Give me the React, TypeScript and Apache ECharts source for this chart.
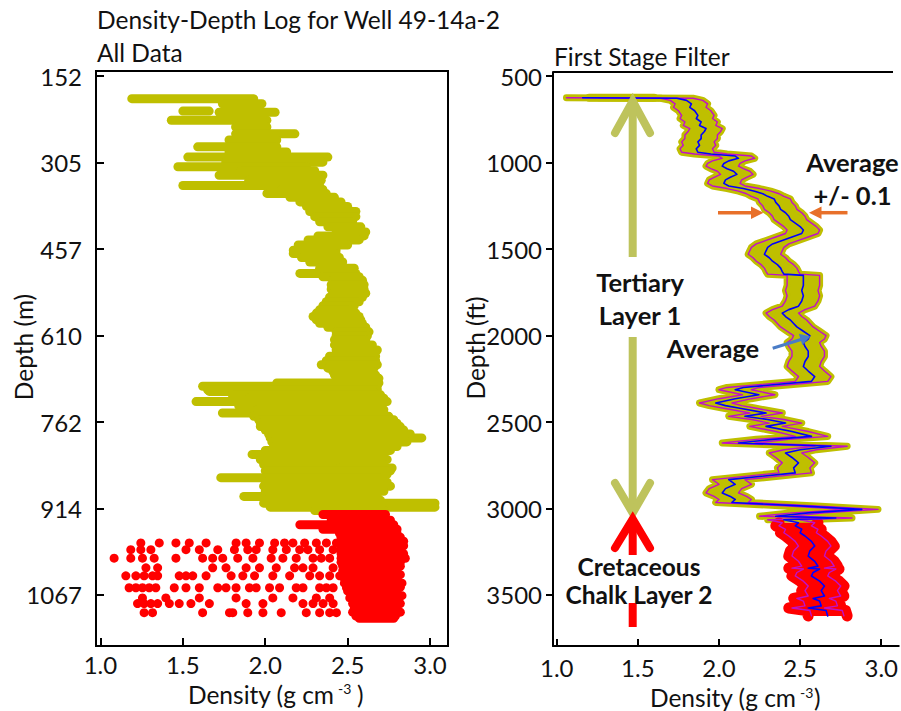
import React, { useEffect, useRef } from "react";
import * as echarts from "echarts";

// ---------- axis ticks ----------
const LEFT_DEPTH_TICKS_M = [152.4, 304.8, 457.2, 609.6, 762, 914.4, 1066.8];
const RIGHT_DEPTH_TICKS_FT = [500, 1000, 1500, 2000, 2500, 3000, 3500];
const DENSITY_TICKS = [1.0, 1.5, 2.0, 2.5, 3.0];

// ---------- left panel: all data, rows of measurements [depth m, min density, max density] ----------
const LEFT_TERTIARY_ROWS = [
  [192, 1.19, 1.93], [201, 1.74, 1.98], [214, 1.5, 1.66], [216, 1.72, 2.06], [230, 1.43, 2.01],
  [242, 1.82, 2.01], [254, 1.82, 2.18], [265, 1.78, 2.07], [277, 1.59, 2.07], [286, 1.78, 2.13],
  [295, 1.53, 2.38], [304, 1.76, 2.35], [312, 1.47, 2.25], [319, 1.85, 2.3], [327, 1.72, 2.35],
  [336, 1.9, 2.34], [345, 1.5, 2.33], [352, 2.1, 2.35], [359, 2.01, 2.37], [366, 2.15, 2.42],
  [374, 2.21, 2.46], [382, 2.25, 2.5], [391, 2.27, 2.55], [400, 2.3, 2.55], [409, 2.33, 2.53],
  [418, 2.38, 2.58], [427, 2.43, 2.61], [434, 2.32, 2.6], [441, 2.26, 2.57], [450, 2.2, 2.5],
  [459, 2.17, 2.43], [465, 2.17, 2.43], [472, 2.22, 2.45], [480, 2.27, 2.47], [491, 2.33, 2.54],
  [500, 2.21, 2.55], [506, 2.35, 2.57], [512, 2.41, 2.59], [520, 2.4, 2.6], [528, 2.4, 2.6],
  [535, 2.41, 2.61], [542, 2.39, 2.59], [550, 2.37, 2.57], [557, 2.35, 2.54], [564, 2.33, 2.51],
  [570, 2.31, 2.55], [576, 2.29, 2.57], [582, 2.31, 2.58], [588, 2.33, 2.59], [595, 2.38, 2.61],
  [603, 2.43, 2.63], [610, 2.43, 2.62], [617, 2.42, 2.61], [626, 2.42, 2.65], [635, 2.43, 2.68],
  [646, 2.39, 2.67], [654, 2.37, 2.67], [661, 2.34, 2.68], [667, 2.38, 2.66], [673, 2.41, 2.65],
  [679, 2.42, 2.67], [685, 2.43, 2.69], [693, 2.07, 2.69], [699, 1.62, 2.68], [705, 1.65, 2.68],
  [708, 1.66, 2.66], [714, 1.8, 2.7], [720, 1.9, 2.72], [726, 1.58, 2.74], [734, 1.84, 2.7],
  [740, 1.95, 2.72], [746, 1.74, 2.72], [752, 1.93, 2.75], [758, 1.96, 2.78], [764, 1.97, 2.8],
  [770, 1.97, 2.82], [776, 2.0, 2.84], [783, 2.02, 2.88], [790, 2.03, 2.95], [797, 2.04, 2.86],
  [805, 2.05, 2.8], [812, 2.0, 2.76], [819, 1.92, 2.72], [828, 1.97, 2.74], [837, 1.99, 2.72],
  [843, 2.45, 2.77], [848, 2.0, 2.76], [854, 2.05, 2.74], [860, 1.73, 2.7], [868, 2.0, 2.74],
  [875, 1.99, 2.76], [884, 2.0, 2.72], [893, 1.87, 2.68], [900, 2.0, 2.7], [905, 1.99, 3.03],
  [912, 2.03, 3.03], [918, 2.3, 2.72],
];

const LEFT_CHALK_ROWS = [
  [925, 2.35, 2.73], [935, 2.4, 2.76], [943, 2.21, 2.78], [951, 2.35, 2.8], [958, 2.45, 2.8],
  [965, 2.46, 2.82], [972, 2.46, 2.84], [980, 2.46, 2.84], [987, 2.46, 2.82], [994, 2.46, 2.84],
  [1002, 2.46, 2.85], [1009, 2.46, 2.82], [1016, 2.47, 2.82], [1024, 2.47, 2.8], [1031, 2.47, 2.82],
  [1038, 2.48, 2.8], [1046, 2.48, 2.83], [1053, 2.5, 2.82], [1060, 2.5, 2.8], [1068, 2.52, 2.83],
  [1075, 2.53, 2.8], [1082, 2.53, 2.82], [1090, 2.54, 2.8], [1097, 2.53, 2.82], [1104, 2.55, 2.79],
  [1108, 2.57, 2.78],
];

// scattered chalk measurements [density, depth m]
const LEFT_CHALK_SCATTER = [
  [1.245, 975], [1.357, 975], [1.458, 975], [1.539, 975], [1.641, 975], [1.823, 975], [1.884, 975],
  [1.965, 975], [2.057, 975], [2.117, 975], [2.168, 975], [2.239, 975], [2.31, 975], [2.371, 975], [2.432, 975],
  [1.184, 987], [1.245, 987], [1.306, 987], [1.519, 987], [1.6, 987], [1.712, 987], [1.813, 987],
  [1.894, 987], [1.945, 987], [2.046, 987], [2.128, 987], [2.209, 987], [2.259, 987], [2.33, 987], [2.412, 987],
  [1.083, 1002], [1.184, 1002], [1.255, 1002], [1.326, 1002], [1.458, 1002], [1.62, 1002], [1.681, 1002],
  [1.742, 1002], [1.833, 1002], [1.925, 1002], [2.036, 1002], [2.107, 1002], [2.188, 1002], [2.29, 1002],
  [2.34, 1002], [2.391, 1002],
  [1.276, 1019], [1.347, 1019], [1.681, 1019], [1.762, 1019], [1.884, 1019], [1.965, 1019], [2.067, 1019],
  [2.178, 1019], [2.229, 1019], [2.29, 1019], [2.412, 1019],
  [1.154, 1033], [1.215, 1033], [1.265, 1033], [1.316, 1033], [1.347, 1033], [1.478, 1033], [1.519, 1033],
  [1.56, 1033], [1.641, 1033], [1.793, 1033], [1.864, 1033], [1.935, 1033], [2.046, 1033], [2.148, 1033],
  [2.27, 1033], [2.33, 1033], [2.391, 1033], [2.452, 1033],
  [1.174, 1054], [1.215, 1054], [1.255, 1054], [1.296, 1054], [1.336, 1054], [1.448, 1054], [1.519, 1054],
  [1.6, 1054], [1.712, 1054], [1.762, 1054], [1.823, 1054], [1.904, 1054], [1.945, 1054], [2.026, 1054],
  [2.087, 1054], [2.188, 1054], [2.229, 1054], [2.33, 1054], [2.371, 1054], [2.412, 1054], [2.493, 1054],
  [1.255, 1072], [1.397, 1072], [1.6, 1072], [1.823, 1072], [2.046, 1072], [2.168, 1072], [2.31, 1072],
  [2.391, 1072], [2.513, 1072],
  [1.225, 1082], [1.265, 1082], [1.306, 1082], [1.347, 1082], [1.418, 1082], [1.478, 1082], [1.549, 1082],
  [1.661, 1082], [1.884, 1082], [1.986, 1082], [2.229, 1082], [2.29, 1082], [2.351, 1082], [2.412, 1082],
  [1.265, 1098], [1.316, 1098], [1.62, 1098], [1.783, 1098], [1.803, 1098], [1.894, 1098], [1.986, 1098],
  [2.097, 1098], [2.249, 1098], [2.33, 1098], [2.391, 1098], [2.432, 1098],
];

// ---------- right panel: first stage filter, running average [depth ft, density] ----------
const RIGHT_TERTIARY_AVG = [
  [625, 1.16], [628, 1.74], [640, 1.8], [660, 1.83], [680, 1.82], [700, 1.85], [727, 1.87], [745, 1.86],
  [765, 1.89], [785, 1.88], [803, 1.92], [820, 1.91], [840, 1.89], [861, 1.89], [880, 1.87], [900, 1.88],
  [920, 1.86], [940, 1.87], [950, 1.95], [962, 2.1], [975, 2.12], [990, 2.06], [1005, 2.03], [1020, 2.02],
  [1035, 2.05], [1050, 2.09], [1068, 2.11], [1085, 2.07], [1100, 2.04], [1120, 2.03], [1135, 2.06],
  [1150, 2.15], [1165, 2.22], [1180, 2.27], [1195, 2.3], [1210, 2.34], [1230, 2.35], [1250, 2.37],
  [1270, 2.38], [1290, 2.41], [1310, 2.43], [1330, 2.44], [1350, 2.47], [1370, 2.5], [1390, 2.52],
  [1410, 2.51], [1430, 2.45], [1450, 2.39], [1470, 2.33], [1490, 2.3], [1510, 2.29], [1530, 2.28],
  [1550, 2.31], [1570, 2.33], [1590, 2.36], [1610, 2.38], [1630, 2.39], [1645, 2.4], [1652, 2.52],
  [1680, 2.52], [1710, 2.52], [1740, 2.51], [1770, 2.52], [1800, 2.51], [1830, 2.49], [1850, 2.43],
  [1870, 2.39], [1890, 2.41], [1910, 2.44], [1930, 2.46], [1950, 2.48], [1975, 2.52], [2000, 2.56],
  [2020, 2.55], [2040, 2.52], [2063, 2.53], [2090, 2.55], [2121, 2.55], [2150, 2.53], [2179, 2.52],
  [2205, 2.55], [2237, 2.59], [2265, 2.57], [2300, 2.15], [2313, 2.1], [2342, 2.245], [2365, 2.1],
  [2390, 1.98], [2405, 2.04], [2419, 2.12], [2448, 2.29], [2467, 2.16], [2485, 2.3], [2506, 2.41],
  [2525, 2.29], [2555, 2.45], [2583, 2.57], [2600, 2.33], [2621, 2.12], [2640, 2.69], [2660, 2.5],
  [2679, 2.41], [2705, 2.45], [2736, 2.49], [2765, 2.46], [2794, 2.47], [2833, 2.06], [2860, 2.1],
  [2885, 2.04], [2910, 2.02], [2930, 2.07], [2948, 2.1], [2965, 2.08], [2985, 2.5], [3005, 2.88],
  [3025, 2.55], [3045, 2.35], [3055, 2.72], [3065, 2.4],
];

const RIGHT_CHALK_AVG = [
  [3082, 2.49], [3100, 2.47], [3120, 2.51], [3140, 2.5], [3159, 2.53], [3190, 2.57], [3217, 2.59],
  [3245, 2.56], [3275, 2.55], [3305, 2.59], [3333, 2.61], [3345, 2.55], [3350, 2.62], [3370, 2.58],
  [3390, 2.57], [3420, 2.62], [3448, 2.65], [3475, 2.63], [3506, 2.65], [3520, 2.58], [3535, 2.62],
  [3563, 2.63], [3575, 2.55], [3590, 2.66], [3621, 2.67],
];

// raw (unfiltered) rows visible in right panel [depth ft, min density, max density]
const RIGHT_RAW_ROWS = [[625, 1.2, 1.6]];

const FILTER_HALF_WIDTH = 0.1;

// ---------- styling ----------
const OLIVE = "#bfbf00";
const RED = "#ff0000";
const MAGENTA = "#c010c8";
const BLUE = "#0000ff";
const ARROW_OLIVE = "#bec35c";
const ORANGE = "#e8702a";
const ARROW_BLUE = "#4a7cc6";
const FONT = 'Lato, "Liberation Sans", sans-serif';
const FS = 24.5;

function capsuleRenderer(color: string, r: number) {
  return (_params: any, api: any) => {
    const y = api.value(0);
    const p1 = api.coord([api.value(1), y]);
    const p2 = api.coord([api.value(2), y]);
    return {
      type: "rect",
      shape: { x: p1[0] - r, y: p1[1] - r, width: p2[0] - p1[0] + 2 * r, height: 2 * r, r },
      style: { fill: color },
    };
  };
}

function bandRenderer(avg: number[][], half: number, color: string) {
  return (_params: any, api: any) => {
    const left = avg.map(([ft, d]) => api.coord([d - half, ft]));
    const right = avg.map(([ft, d]) => api.coord([d + half, ft])).reverse();
    return { type: "polygon", shape: { points: left.concat(right) }, style: { fill: color } };
  };
}

const shift = (avg: number[][], off: number) => avg.map(([ft, d]) => [d + off, ft]);

export default function App() {
  const ref = useRef<HTMLDivElement>(null);
  useEffect(() => {
    if (!ref.current) return;
    const chart = echarts.init(ref.current, null, { renderer: "svg" });
    const fullAvg = RIGHT_TERTIARY_AVG.concat(RIGHT_CHALK_AVG);
    const tickLabel = { fontFamily: FONT, fontSize: 24, color: "#111" };
    const txt = (text: string, x: number, y: number, extra: any = {}, el: any = {}) => ({
      type: "text",
      x,
      y,
      ...el,
      style: {
        text,
        fontFamily: FONT,
        fontSize: FS,
        fill: "#111",
        textAlign: "left",
        textVerticalAlign: "middle",
        ...extra,
      },
    });
    const boldTxt = (text: string, x: number, y: number, lh: number, fs = 25.5) =>
      txt(text, x, y, { fontWeight: "bold", textAlign: "center", fontSize: fs, lineHeight: lh }, { z: 11 });

    // "Density (g cm" + superscript "-3" + ")"
    const densityName = (xEnd: number, y: number, supX: number, supY: number, parX: number) => [
      txt("Density (g cm", xEnd, y, { textAlign: "right" }),
      txt("-3", supX, supY, { fontSize: 14 }),
      txt(")", parX, y),
    ];

    const lineSeries = (data: number[][], color: string, width: number, z: number) => ({
      type: "line",
      xAxisIndex: 1,
      yAxisIndex: 1,
      data,
      symbol: "none",
      silent: true,
      z,
      lineStyle: { color, width, cap: "round", join: "round" },
    });

    const option: any = {
      animation: false,
      grid: [
        { left: 96, top: 71, width: 352, height: 575, show: true, borderColor: "#000", borderWidth: 2 },
        { left: 553, top: 72, width: 348, height: 574, show: false },
      ],
      xAxis: [
        {
          type: "value",
          gridIndex: 0,
          min: 0.973,
          max: 3.109,
          axisLine: { show: false, onZero: false },
          axisTick: { inside: true, length: 8, lineStyle: { color: "#000", width: 2 }, customValues: DENSITY_TICKS },
          axisLabel: { ...tickLabel, margin: 6, customValues: DENSITY_TICKS, formatter: (v: number) => v.toFixed(1) },
          splitLine: { show: false },
        },
        {
          type: "value",
          gridIndex: 1,
          min: 0.977,
          max: 3.108,
          axisLine: { show: true, onZero: false, lineStyle: { color: "#000", width: 2 } },
          axisTick: { inside: true, length: 7, lineStyle: { color: "#000", width: 2 }, customValues: DENSITY_TICKS },
          axisLabel: { ...tickLabel, margin: 9, customValues: DENSITY_TICKS, formatter: (v: number) => v.toFixed(1) },
          splitLine: { show: false },
        },
      ],
      yAxis: [
        {
          type: "value",
          gridIndex: 0,
          inverse: true,
          min: 143.3,
          max: 1156.7,
          axisLine: { show: false, onZero: false },
          axisTick: { inside: true, length: 8, lineStyle: { color: "#000", width: 2 }, customValues: LEFT_DEPTH_TICKS_M },
          axisLabel: { ...tickLabel, margin: 14, customValues: LEFT_DEPTH_TICKS_M, formatter: (v: number) => String(Math.round(v)) },
          splitLine: { show: false },
        },
        {
          type: "value",
          gridIndex: 1,
          inverse: true,
          min: 476,
          max: 3795,
          axisLine: { show: true, onZero: false, lineStyle: { color: "#000", width: 2 } },
          axisTick: { inside: false, length: 7, lineStyle: { color: "#000", width: 2 }, customValues: RIGHT_DEPTH_TICKS_FT },
          axisLabel: { ...tickLabel, margin: 11, customValues: RIGHT_DEPTH_TICKS_FT, formatter: (v: number) => String(Math.round(v)) },
          splitLine: { show: false },
        },
      ],
      series: [
        {
          type: "custom",
          xAxisIndex: 0,
          yAxisIndex: 0,
          data: LEFT_TERTIARY_ROWS,
          encode: { x: [1, 2], y: 0 },
          renderItem: capsuleRenderer(OLIVE, 4.5),
          silent: true,
          z: 2,
        },
        {
          type: "custom",
          xAxisIndex: 0,
          yAxisIndex: 0,
          data: LEFT_CHALK_ROWS,
          encode: { x: [1, 2], y: 0 },
          renderItem: capsuleRenderer(RED, 4.5),
          silent: true,
          z: 3,
        },
        {
          type: "scatter",
          xAxisIndex: 0,
          yAxisIndex: 0,
          data: LEFT_CHALK_SCATTER,
          symbolSize: 9,
          itemStyle: { color: RED, opacity: 1 },
          silent: true,
          z: 3,
        },
        // right panel
        {
          type: "custom",
          xAxisIndex: 1,
          yAxisIndex: 1,
          data: [[RIGHT_TERTIARY_AVG[0][0], RIGHT_TERTIARY_AVG[0][1], RIGHT_TERTIARY_AVG[0][1]]],
          encode: { x: [1, 2], y: 0 },
          renderItem: bandRenderer(RIGHT_TERTIARY_AVG, FILTER_HALF_WIDTH, OLIVE),
          silent: true,
          z: 2,
        },
        lineSeries(shift(RIGHT_TERTIARY_AVG, -FILTER_HALF_WIDTH), OLIVE, 7, 2),
        lineSeries(shift(RIGHT_TERTIARY_AVG, FILTER_HALF_WIDTH), OLIVE, 7, 2),
        {
          type: "custom",
          xAxisIndex: 1,
          yAxisIndex: 1,
          data: RIGHT_RAW_ROWS,
          encode: { x: [1, 2], y: 0 },
          renderItem: capsuleRenderer(OLIVE, 4),
          silent: true,
          z: 2,
        },
        {
          type: "custom",
          xAxisIndex: 1,
          yAxisIndex: 1,
          data: [[RIGHT_CHALK_AVG[0][0], RIGHT_CHALK_AVG[0][1], RIGHT_CHALK_AVG[0][1]]],
          encode: { x: [1, 2], y: 0 },
          renderItem: bandRenderer(RIGHT_CHALK_AVG, 0.12, RED),
          silent: true,
          z: 3,
        },
        lineSeries(shift(RIGHT_CHALK_AVG, -0.12), RED, 11, 3),
        lineSeries(shift(RIGHT_CHALK_AVG, 0.12), RED, 11, 3),
        lineSeries(shift(fullAvg, -FILTER_HALF_WIDTH), MAGENTA, 1.4, 4),
        lineSeries(shift(fullAvg, FILTER_HALF_WIDTH), MAGENTA, 1.4, 4),
        lineSeries(shift(fullAvg, 0), BLUE, 1.6, 5),
      ],
      graphic: {
        elements: [
          txt("Density-Depth Log for Well 49-14a-2", 97, 19),
          txt("All Data", 97, 52),
          txt("First Stage Filter", 554, 56),
          { type: "line", shape: { x1: 553, y1: 72, x2: 893, y2: 72 }, style: { stroke: "#000", lineWidth: 2 } },
          txt("Depth (m)", 23, 347, { textAlign: "center" }, { rotation: Math.PI / 2 }),
          txt("Depth (ft)", 475, 348, { textAlign: "center" }, { rotation: Math.PI / 2 }),
          ...densityName(334, 694, 338, 688, 357),
          ...densityName(796, 697, 800, 692, 814),
          // Tertiary arrow (olive)
          {
            type: "polyline",
            shape: { points: [[615, 133], [632.7, 101], [650, 133]] },
            style: { stroke: ARROW_OLIVE, lineWidth: 8, lineCap: "round", lineJoin: "miter", fill: null },
            z: 10,
          },
          { type: "line", shape: { x1: 632.7, y1: 104, x2: 632.7, y2: 257 }, style: { stroke: ARROW_OLIVE, lineWidth: 8 }, z: 10 },
          { type: "line", shape: { x1: 632.7, y1: 337, x2: 632.7, y2: 508 }, style: { stroke: ARROW_OLIVE, lineWidth: 8 }, z: 10 },
          {
            type: "polyline",
            shape: { points: [[615, 483], [632.7, 513], [650, 483]] },
            style: { stroke: ARROW_OLIVE, lineWidth: 8, lineCap: "round", lineJoin: "miter", fill: null },
            z: 10,
          },
          // Cretaceous arrow (red)
          {
            type: "polyline",
            shape: { points: [[615, 548], [632.7, 519], [650, 548]] },
            style: { stroke: RED, lineWidth: 8, lineCap: "round", lineJoin: "miter", fill: null },
            z: 10,
          },
          { type: "line", shape: { x1: 632.7, y1: 522, x2: 632.7, y2: 555 }, style: { stroke: RED, lineWidth: 8 }, z: 10 },
          { type: "line", shape: { x1: 632.7, y1: 603, x2: 632.7, y2: 627 }, style: { stroke: RED, lineWidth: 8 }, z: 10 },
          boldTxt("Tertiary\nLayer 1", 640, 298.5, 33),
          boldTxt("Cretaceous\nChalk Layer 2", 639, 580.5, 28, 24.5),
          boldTxt("Average\n+/- 0.1", 852.5, 178.5, 33),
          boldTxt("Average", 713, 348, 30),
          // orange arrows
          { type: "line", shape: { x1: 718, y1: 212.7, x2: 753, y2: 212.7 }, style: { stroke: ORANGE, lineWidth: 3.5 }, z: 10 },
          { type: "polygon", shape: { points: [[751, 206.5], [763.5, 212.7], [751, 219]] }, style: { fill: ORANGE }, z: 10 },
          { type: "line", shape: { x1: 847.5, y1: 212.7, x2: 820, y2: 212.7 }, style: { stroke: ORANGE, lineWidth: 3.5 }, z: 10 },
          { type: "polygon", shape: { points: [[821.5, 206.5], [809, 212.7], [821.5, 219]] }, style: { fill: ORANGE }, z: 10 },
          // blue arrow
          { type: "line", shape: { x1: 772.7, y1: 348.3, x2: 801, y2: 339.5 }, style: { stroke: ARROW_BLUE, lineWidth: 3 }, z: 10 },
          { type: "polygon", shape: { points: [[802.3, 345], [810.5, 336.6], [798.8, 333.7]] }, style: { fill: ARROW_BLUE }, z: 10 },
        ],
      },
    };
    chart.setOption(option);
    return () => chart.dispose();
  }, []);

  return (
    <div
      ref={ref}
      style={{ position: "fixed", left: 0, top: 0, width: 901, height: 711, background: "#fff" }}
    />
  );
}
